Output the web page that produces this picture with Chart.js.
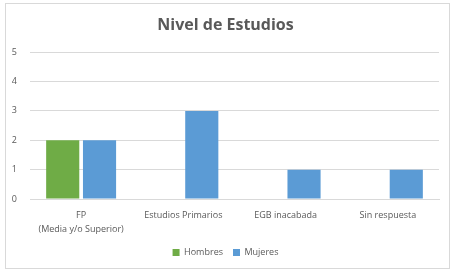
<!DOCTYPE html>
<html>
<head>
<meta charset="utf-8">
<script src="https://cdn.jsdelivr.net/npm/chart.js@4/dist/chart.umd.min.js"></script>
<style>
  body { margin: 0; background: #fff; }
  #box { position: absolute; left: 5px; top: 3px; width: 443px; height: 264px; border: 1px solid #d9d9d9; }
  canvas { display: block; }
</style>
</head>
<body>
<div id="box"><canvas id="chart"></canvas></div>
<script>
var categories = [ [ "FP", "(Media y/o Superior)" ], "Estudios Primarios", "EGB inacabada", "Sin respuesta" ];
var hombres = [ 2, null, null, null ];
var mujeres = [ 2, 3, 1, 1 ];
var yTicks = [ 0, 1, 2, 3, 4, 5 ];

var font = "'Open Sans', 'Liberation Sans', sans-serif";
new Chart( document.getElementById( "chart" ), {
    type: "bar",
    data: {
        labels: categories,
        datasets: [ {
            label: "Hombres",
            data: hombres,
            backgroundColor: "#6fac46"
        }, {
            label: "Mujeres",
            data: mujeres,
            backgroundColor: "#5b9bd5"
        } ]
    },
    options: {
        responsive: true,
        maintainAspectRatio: false,
        animation: false,
        layout: { padding: { left: 6, right: 10, top: 4, bottom: 1 } },
        datasets: { bar: { categoryPercentage: 0.72, barPercentage: 0.9 } },
        plugins: {
            title: {
                display: true,
                text: "Nivel de Estudios",
                color: "#595959",
                font: { family: font, size: 16, weight: "bold" },
                padding: { top: 8, bottom: 17 }
            },
            legend: {
                position: "bottom",
                labels: {
                    color: "#595959",
                    font: { family: font, size: 9 },
                    boxWidth: 7,
                    boxHeight: 7,
                    padding: 10
                }
            },
            tooltip: { enabled: false }
        },
        scales: {
            x: {
                grid: { display: false },
                border: { color: "#d9d9d9" },
                ticks: { color: "#595959", font: { family: font, size: 9, lineHeight: 1.5 }, maxRotation: 0, padding: 2 },
                afterFit: function ( axis ) {
                    axis.paddingLeft = 0;
                    axis.paddingRight = 0;
                }
            },
            y: {
                min: 0,
                max: 5,
                afterBuildTicks: function ( axis ) {
                    axis.ticks = yTicks.map( function ( v ) { return { value: v }; } );
                },
                afterFit: function ( axis ) {
                    axis.width = 18;
                },
                grid: { color: "#d9d9d9", drawTicks: false },
                border: { display: false },
                ticks: { color: "#595959", font: { family: font, size: 9 }, padding: 13 }
            }
        }
    }
} );
</script>
</body>
</html>
